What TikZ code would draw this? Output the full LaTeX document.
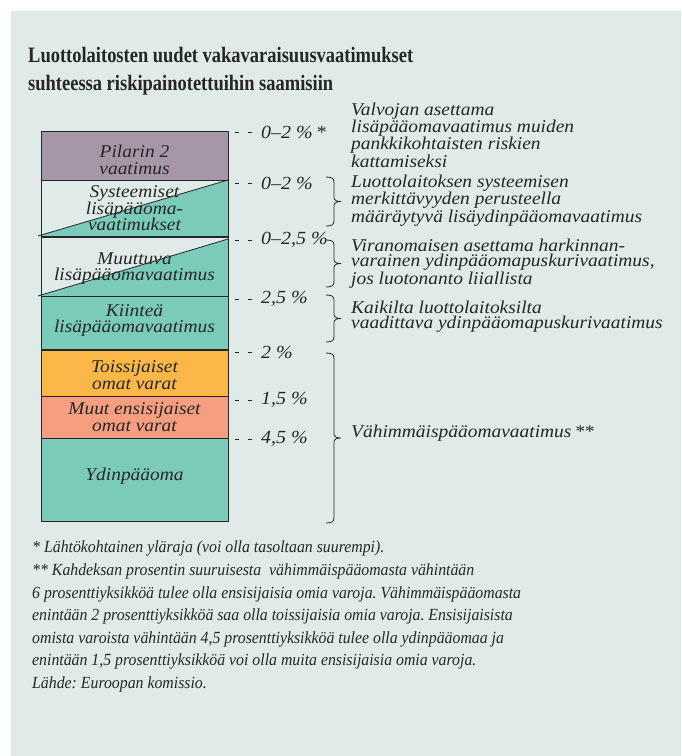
\documentclass[tikz,border=0pt]{standalone}
\usepackage{fontspec}
\setmainfont{Liberation Serif}
\newfontfamily\titlef[FakeStretch=0.84]{Liberation Serif}
\newfontfamily\bodyf[FakeStretch=1.08]{Liberation Serif}
\newfontfamily\footf[FakeStretch=0.93]{Liberation Serif}
\definecolor{panel}{HTML}{E0EAE8}
\definecolor{mauve}{HTML}{A796A8}
\definecolor{teal2}{HTML}{7ACBBA}
\definecolor{orange2}{HTML}{FBB848}
\definecolor{salmon}{HTML}{F59F80}
\definecolor{ink}{HTML}{262626}
\frenchspacing
\tikzset{
  box/.style={draw=ink, line width=0.8pt, minimum width=187pt, inner sep=0pt, outer sep=0pt},
  boxtxt/.style={font=\bodyf\itshape\fontsize{18}{16.5}\selectfont, text=ink, align=center, inner sep=0pt},
  ticktxt/.style={font=\bodyf\itshape\fontsize{18.5}{16}\selectfont, text=ink, anchor=west, inner sep=0pt},
  tickdash/.style={draw=ink, line width=0.7pt, dash pattern=on 4pt off 9pt},
  side/.style={font=\bodyf\itshape\fontsize{18}{15.3}\selectfont, text=ink, align=left, anchor=west, inner sep=0pt},
  foot/.style={font=\footf\itshape\fontsize{17}{20}\selectfont, text=ink, anchor=west, inner sep=0pt},
  titletxt/.style={font=\titlef\bfseries\fontsize{22}{28}\selectfont, text=ink, anchor=base west, inner sep=0pt},
  bracepath/.style={draw=ink, line width=0.8pt}
}
\begin{document}
\begin{tikzpicture}[x=1pt,y=-1pt]
\useasboundingbox (0,0) rectangle (681,756);
\fill[white] (0,0) rectangle (681,756);
\fill[panel] (11,11) rectangle (681,756);

% title
\node[titletxt] (t1) at (28,62) {Luottolaitosten uudet vakavaraisuusvaatimukset};
\node[titletxt] (t2) at (28,90) {suhteessa riskipainotettuihin saamisiin};

% stacked boxes
\node[box, fill=mauve, minimum height=49pt] (pil) at (134.5,155.5) {};
\node[box, minimum height=56pt] (sys) at (134.5,208) {};
\fill[teal2] ([xshift=-3pt]sys.south west) -- (sys.north east) -- (sys.south east) -- cycle;
\draw[ink, line width=0.8pt] ([xshift=-3pt]sys.south west) -- (sys.north east);
\node[box, minimum height=59pt] (muu) at (134.5,266.5) {};
\fill[teal2] ([xshift=-3pt]muu.south west) -- ([yshift=-2pt]muu.north east) -- (muu.south east) -- cycle;
\draw[ink, line width=0.8pt] ([xshift=-3pt]muu.south west) -- ([yshift=-2pt]muu.north east);
\draw[ink, line width=0.8pt] (sys.north west) rectangle (sys.south east);
\draw[ink, line width=0.8pt] (muu.north west) rectangle (muu.south east);
\node[box, fill=teal2, minimum height=53pt] (kii) at (134.5,322.5) {};
\node[box, fill=orange2, minimum height=46pt] (toi) at (134.5,373) {};
\node[box, fill=salmon, minimum height=42pt] (mue) at (134.5,417) {};
\node[box, fill=teal2, minimum height=83pt] (ydi) at (134.5,479.5) {};

% box texts
\node[boxtxt] (pilt) at (134.5,160) {Pilarin 2\\vaatimus};
\node[boxtxt] (syst) at (134.5,208.5) {Systeemiset\\lisäpääoma-\\vaatimukset};
\node[boxtxt] (muut) at (134.5,268.5) {Muuttuva\\lisäpääomavaatimus};
\node[boxtxt] (kiit) at (134.5,320.5) {Kiinteä\\lisäpääomavaatimus};
\node[boxtxt] (toit) at (134.5,375) {Toissijaiset\\omat varat};
\node[boxtxt] (muet) at (134.5,417) {Muut ensisijaiset\\omat varat};
\node[boxtxt] (ydit) at (134.5,476) {Ydinpääoma};

% tick labels
\foreach \yy/\lab/\nm in {132/{0–2 \%\,*}/k1, 183/{0–2 \%}/k2, 240/{0–2,5 \%}/k3, 299/{2,5 \%}/k4, 352/{2 \%}/k5, 400/{1,5 \%}/k6, 439/{4,5 \%}/k7}{
  \draw[tickdash] (235,\yy) -- (254,\yy);
  \node[ticktxt] (\nm) at (261,\yy) {\lab};
}

% braces
\foreach \t/\b in {177/226, 240/287, 295/342, 353/523}{
  \pgfmathsetmacro\m{(\t+\b)/2}
  \draw[bracepath] (326,\t) .. controls (331,\t) and (334,\t+1) .. (334,\t+5)
    -- (334,\m-4) .. controls (334,\m-1) and (337,\m) .. (341,\m)
    .. controls (337,\m) and (334,\m+1) .. (334,\m+4)
    -- (334,\b-5) .. controls (334,\b-1) and (331,\b) .. (326,\b);
}

% side texts
\node[side] (s1) at (351,135) {Valvojan asettama\\lisäpääomavaatimus muiden\\pankkikohtaisten riskien\\kattamiseksi};
\node[side] (s2) at (351,200.5) {Luottolaitoksen systeemisen\\merkittävyyden perusteella\\määräytyvä lisäydinpääomavaatimus};
\node[side] (s3) at (351,263.5) {Viranomaisen asettama harkinnan-\\varainen ydinpääomapuskurivaatimus,\\jos luotonanto liiallista};
\node[side] (s4) at (351,316.5) {Kaikilta luottolaitoksilta\\vaadittava ydinpääomapuskurivaatimus};
\node[side] (s5) at (351,433) {Vähimmäispääomavaatimus\,**};

% footnotes
\node[foot] (f1) at (32,548) {* Lähtökohtainen yläraja (voi olla tasoltaan suurempi).};
\node[foot] (f2) at (32,571) {** Kahdeksan prosentin suuruisesta\ \ vähimmäispääomasta vähintään};
\node[foot] (f3) at (32,594) {6 prosenttiyksikköä tulee olla ensisijaisia omia varoja. Vähimmäispääomasta};
\node[foot] (f4) at (32,616) {enintään 2 prosenttiyksikköä saa olla toissijaisia omia varoja. Ensisijaisista};
\node[foot] (f5) at (32,639) {omista varoista vähintään 4,5 prosenttiyksikköä tulee olla ydinpääomaa ja};
\node[foot] (f6) at (32,661) {enintään 1,5 prosenttiyksikköä voi olla muita ensisijaisia omia varoja.};
\node[foot] (f7) at (32,684) {Lähde: Euroopan komissio.};
\end{tikzpicture}
\end{document}
